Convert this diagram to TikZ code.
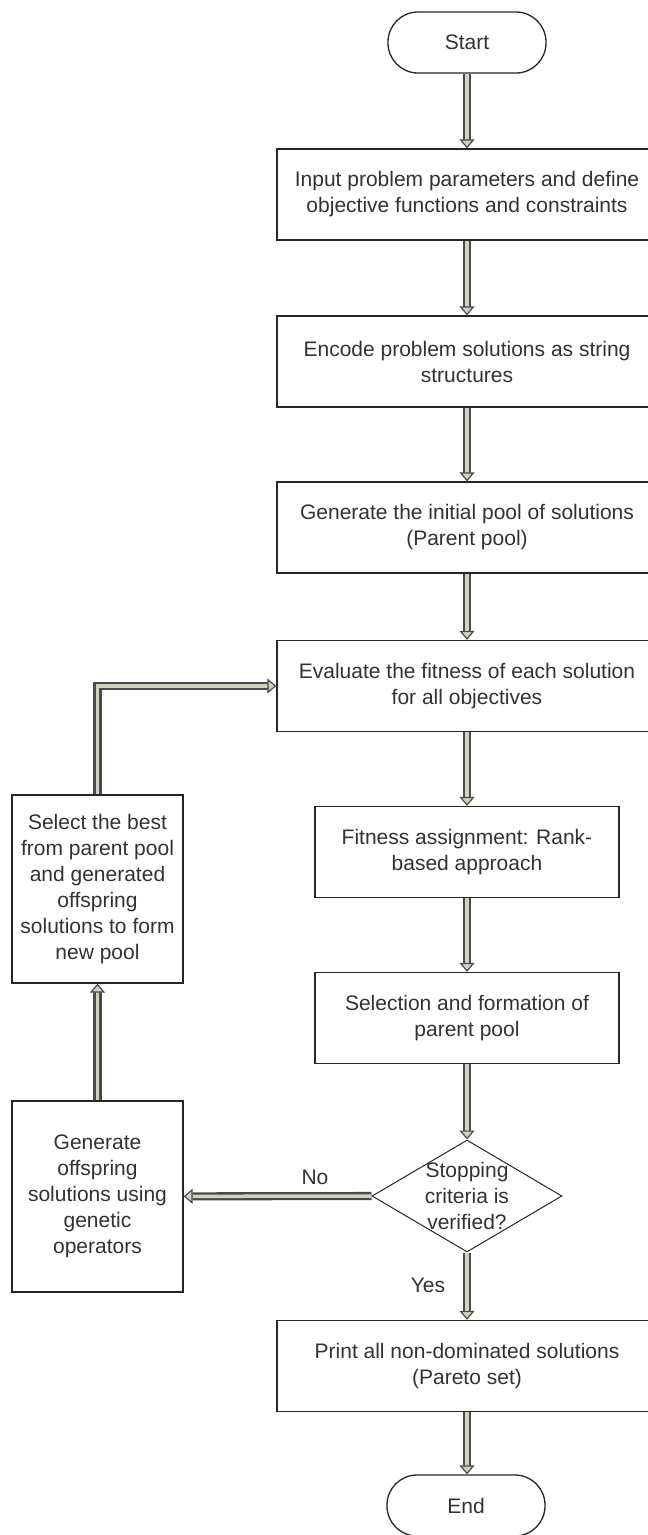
\documentclass[tikz,border=0pt]{standalone}
\usepackage{fontspec}
\setmainfont{Liberation Sans}
\usetikzlibrary{arrows.meta,shapes.geometric}
\definecolor{flowfill}{RGB}{210,210,190}
\definecolor{flowedge}{RGB}{75,75,75}
\definecolor{boxtext}{RGB}{50,50,50}

\begin{document}
\begin{tikzpicture}[x=1pt,y=-1pt,
  every node/.style={font=\fontsize{21}{26}\selectfont, text=boxtext, align=center},
  proc/.style={draw=black!85, line width=1.3pt, inner sep=0pt, minimum width=380pt, minimum height=91pt},
  narrow/.style={proc, minimum width=304pt},
  side/.style={proc, minimum width=171pt},
  term/.style={draw=black!85, line width=1.3pt, rounded corners=30pt, inner sep=0pt, minimum width=158pt, minimum height=61pt},
  decide/.style={draw=black!85, line width=1pt, diamond, aspect=1.7, inner sep=0pt, minimum width=190pt, minimum height=112pt},
  flow/.style={draw=flowedge, line width=2.3pt, double=flowfill, double distance=3.5pt,
    -{Triangle[length=9pt, width=15pt, line width=1.2pt, fill=flowfill]}}]
\clip (0,0) rectangle (648,1535);

\node [term] (start) at (467,42.5) {Start};
\node [proc] (input) at (467,194.5) {Input problem parameters and define\\objective functions and constraints};
\node [proc] (encode) at (467,361.5) {Encode problem solutions as string\\structures};
\node [proc] (initpool) at (467,527.5) {Generate the initial pool of solutions\\(Parent pool)};
\node [proc] (evaluate) at (467,686) {Evaluate the fitness of each solution\\for all objectives};
\node [narrow] (fitness) at (467,852) {Fitness assignment: Rank-\\based approach};
\node [narrow] (selection) at (467,1018) {Selection and formation of\\parent pool};
\node [decide] (stopcrit) at (467,1196) {};
\node (stoptext) at (stopcrit.center) {Stopping\\criteria is\\verified?};
\node [proc] (print) at (467,1366) {Print all non-dominated solutions\\(Pareto set)};
\node [term] (finish) at (466,1505.5) {End};

\node [side, minimum height=188pt] (bestpool) at (97.5,889) {Select the best\\from parent pool\\and generated\\offspring\\solutions to form\\new pool};
\node [side, minimum height=191pt] (offspring) at (97.5,1196.5) {Generate\\offspring\\solutions using\\genetic\\operators};

\draw [flow] (start) -- (input);
\draw [flow] (input) -- (encode);
\draw [flow] (encode) -- (initpool);
\draw [flow] (initpool) -- (evaluate);
\draw [flow] (evaluate) -- (fitness);
\draw [flow] (fitness) -- (selection);
\draw [flow] (selection) -- (stopcrit);
\draw [flow] (stopcrit.south) -- (print);
\draw [flow] (print) -- (finish.north -| print.south);
\draw [flow] (stopcrit.west) -- (offspring);
\draw [flow] (offspring) -- (bestpool);
\draw [flow] (bestpool.north) |- (evaluate.west);

\node (nolabel) at (315,1177) {No};
\node (yeslabel) at (428,1285) {Yes};
\end{tikzpicture}
\end{document}
